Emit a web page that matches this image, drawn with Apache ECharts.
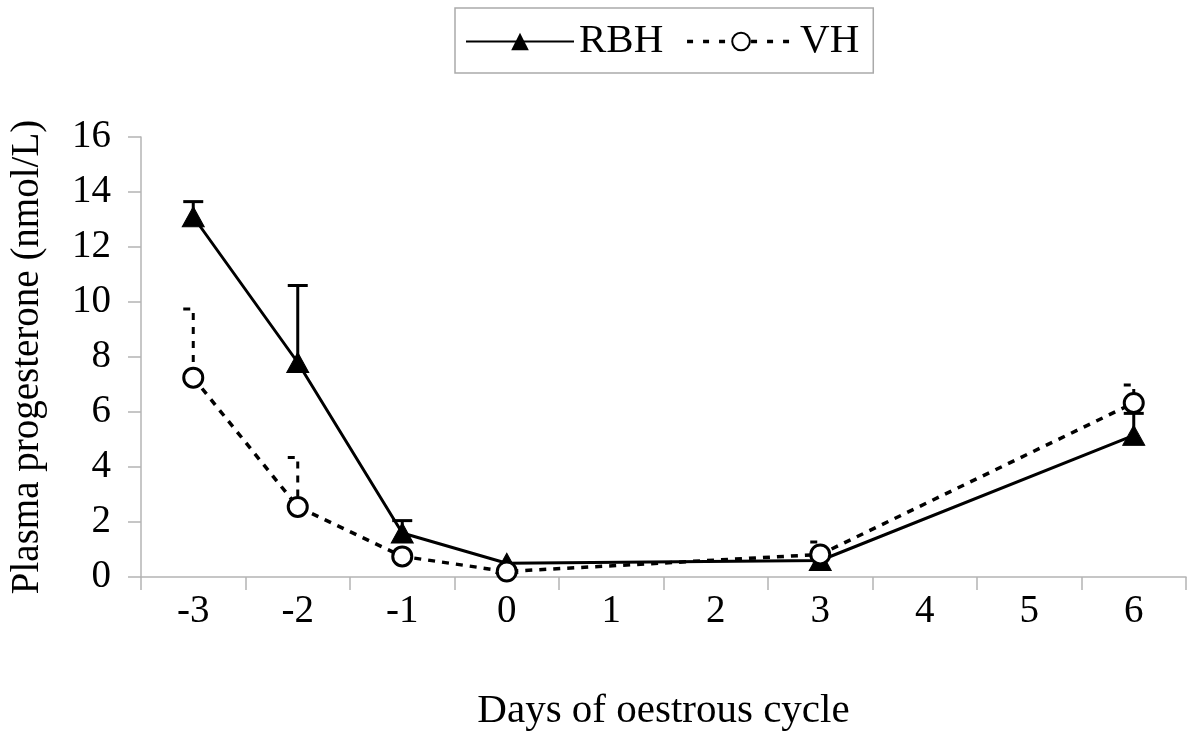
<!DOCTYPE html>
<html><head><meta charset="utf-8">
<script src="https://cdn.jsdelivr.net/npm/echarts@6/dist/echarts.min.js"></script>
<style>html,body{margin:0;padding:0;background:#fff}#c{width:1200px;height:740px}</style>
</head><body><div id="c"></div>
<script>
const days = ['-3','-2','-1','0','1','2','3','4','5','6'];
const rbh = [13.1, 7.8, 1.6, 0.5, null, null, 0.6, null, null, 5.15];
const rbhErr = [0.55, 2.8, 0.45, null, null, null, null, null, null, 0.8];
const vh = [7.25, 2.55, 0.75, 0.2, null, null, 0.82, null, null, 6.33];
const vhErr = [2.5, 1.8, null, null, null, null, 0.45, null, null, 0.65];
const yTicks = {min: 0, max: 16, interval: 2};

function errData(vals, errs){
  const out = [];
  vals.forEach((v,i)=>{ if(v!=null && errs[i]!=null) out.push([i, v, v+errs[i]]); });
  return out;
}
function errRender(dashed){
  return function(params, api){
    const x = api.value(0);
    const lo = api.coord([x, api.value(1)]);
    const hi = api.coord([x, api.value(2)]);
    const hw = 10;
    const style = {stroke:'#000', lineWidth:3, fill:null, lineDash: dashed ? [7,7] : null};
    if(dashed){
      return {type:'polyline', shape:{points:[[hi[0]-hw,hi[1]],[hi[0],hi[1]],[lo[0],lo[1]]]}, style: style};
    }
    return {type:'group', children:[
      {type:'line', shape:{x1:lo[0],y1:lo[1],x2:hi[0],y2:hi[1]}, style:style},
      {type:'line', shape:{x1:hi[0]-hw,y1:hi[1],x2:hi[0]+hw,y2:hi[1]}, style:style}
    ]};
  };
}
const font = 'Liberation Serif';
const chart = echarts.init(document.getElementById('c'));
chart.setOption({
  animation:false,
  backgroundColor:'#fff',
  textStyle:{fontFamily:font},
  legend:{
    top:8, left:455,
    borderColor:'#aaa', borderWidth:1.5, padding:[13,14,11,10],
    itemWidth:108, itemHeight:22, itemGap:22,
    textStyle:{fontFamily:font, fontSize:41, color:'#000'},
    data:['RBH', {name:'VH', lineStyle:{type:[6,10], width:3.5}}]
  },
  grid:{left:141, right:14, top:137, bottom:163, containLabel:false, outerBoundsMode:'none'},
  xAxis:{
    type:'category', data:days, boundaryGap:true,
    name:'Days of oestrous cycle', nameLocation:'middle', nameGap:114,
    nameTextStyle:{fontFamily:font, fontSize:41, color:'#000'},
    axisLine:{lineStyle:{color:'#b4b4b4', width:1.5}},
    axisTick:{show:true, length:13, lineStyle:{color:'#b4b4b4', width:1.5}},
    axisLabel:{fontFamily:font, fontSize:39, color:'#000', margin:15},
    splitLine:{show:false}
  },
  yAxis:{
    type:'value', min:yTicks.min, max:yTicks.max, interval:yTicks.interval,
    name:'Plasma progesterone (nmol/L)', nameLocation:'middle', nameGap:94, nameRotate:90,
    nameTextStyle:{fontFamily:font, fontSize:39, color:'#000'},
    axisLine:{show:true, lineStyle:{color:'#b4b4b4', width:1.5}},
    axisTick:{show:true, length:13, lineStyle:{color:'#b4b4b4', width:1.5}},
    axisLabel:{fontFamily:font, fontSize:39, color:'#000', margin:30},
    splitLine:{show:false}
  },
  series:[
    {type:'custom', name:'RBHerr', renderItem:errRender(false), data:errData(rbh, rbhErr), encode:{x:0,y:[1,2]}, z:1, silent:true},
    {type:'custom', name:'VHerr', renderItem:errRender(true), data:errData(vh, vhErr), encode:{x:0,y:[1,2]}, z:1, silent:true},
    {type:'line', name:'RBH', data:rbh, connectNulls:true, symbol:'triangle', symbolSize:[22,20],
      lineStyle:{color:'#000', width:3}, itemStyle:{color:'#000', borderColor:'#000'}, z:3},
    {type:'line', name:'VH', data:vh, connectNulls:true, symbol:'circle', symbolSize:19,
      lineStyle:{color:'#000', width:3.5, type:[7,7]}, itemStyle:{color:'#fff', borderColor:'#000', borderWidth:3}, z:4}
  ]
});
</script></body></html>
